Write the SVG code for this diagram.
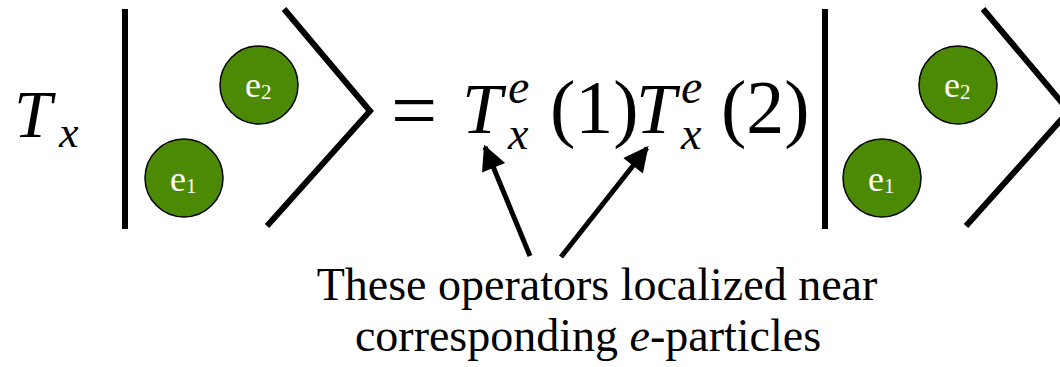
<svg xmlns="http://www.w3.org/2000/svg" width="1060" height="367" viewBox="0 0 1060 367">
<style>
.bar{stroke:#000;stroke-width:6;fill:none}
.ang{stroke:#000;stroke-width:6;fill:none;stroke-linejoin:miter}
.p{fill:#4c8a06;stroke:#000;stroke-width:1.5}
.pl{font-family:"Liberation Serif",serif;fill:#fff;font-size:36px}
.ps{font-size:21px}
.m{font-family:"Liberation Serif",serif;fill:#000}
.mi{font-style:italic}
.lab{font-family:"Liberation Serif",serif;font-size:46px;fill:#000;text-anchor:middle}
.arr{stroke:#000;stroke-width:5;fill:none}
</style>
<defs>
<marker id="ah" viewBox="0 0 10 10" refX="9" refY="5" markerWidth="6" markerHeight="5" markerUnits="strokeWidth" orient="auto">
<path d="M0,0 L10,5 L0,10 z" fill="#000"/>
</marker>
</defs>
<g id="lhs-op">
<text class="m mi" x="14" y="137" font-size="68">T</text>
<text class="m mi" x="59" y="147" font-size="44">x</text>
</g>
<g id="ket-left">
<line class="bar" x1="125" y1="9" x2="125" y2="229"/>
<polyline class="ang" points="284,9 370,111 267,226"/>
</g>
<g id="e2-left">
<circle class="p" cx="259" cy="85" r="39"/>
<text class="pl" x="245" y="97">e<tspan class="ps" dy="2">2</tspan></text>
</g>
<g id="e1-left">
<circle class="p" cx="184" cy="178" r="39"/>
<text class="pl" x="170" y="191">e<tspan class="ps" dy="2">1</tspan></text>
</g>
<g id="equation">
<text class="m" x="391" y="138" font-size="82">=</text>
<text class="m mi" x="462" y="133" font-size="72">T</text>
<text class="m mi" x="508" y="103" font-size="48">e</text>
<text class="m mi" x="508" y="149" font-size="46">x</text>
<text class="m" x="550" y="133" font-size="76">(1)</text>
<text class="m mi" x="636" y="133" font-size="72">T</text>
<text class="m mi" x="681" y="103" font-size="48">e</text>
<text class="m mi" x="681" y="149" font-size="46">x</text>
<text class="m" x="721" y="133" font-size="76">(2)</text>
</g>
<g id="ket-right">
<line class="bar" x1="825" y1="9" x2="825" y2="229"/>
<polyline class="ang" points="983,9 1069,111 966,226"/>
</g>
<g id="e2-right">
<circle class="p" cx="958" cy="85" r="39"/>
<text class="pl" x="944" y="97">e<tspan class="ps" dy="2">2</tspan></text>
</g>
<g id="e1-right">
<circle class="p" cx="882" cy="178" r="39"/>
<text class="pl" x="868" y="191">e<tspan class="ps" dy="2">1</tspan></text>
</g>
<g id="connectors">
<line class="arr" x1="530" y1="256" x2="485" y2="147" marker-end="url(#ah)"/>
<line class="arr" x1="561" y1="257" x2="647" y2="148" marker-end="url(#ah)"/>
</g>
<g id="caption">
<text class="lab" x="597" y="300">These operators localized near</text>
<text class="lab" x="588" y="351">corresponding <tspan font-style="italic">e</tspan>-particles</text>
</g>
</svg>
